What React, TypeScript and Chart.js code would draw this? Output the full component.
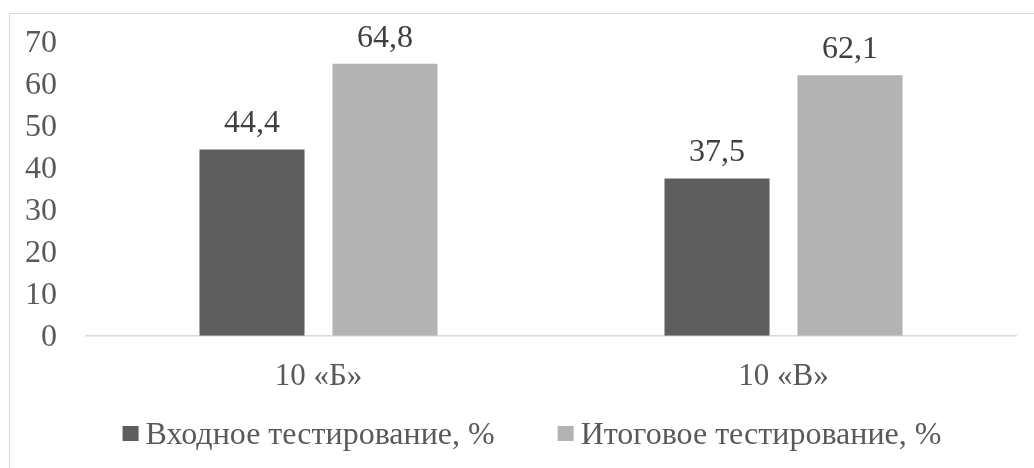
import React, { useEffect, useRef } from "react";
import { Chart, registerables } from "chart.js";

Chart.register(...registerables);

const categories = ["10 «Б»", "10 «В»"];
const seriesNames = ["Входное тестирование, %", "Итоговое тестирование, %"];
const entryValues = [44.4, 37.5];
const finalValues = [64.8, 62.1];
const yTicks = [0, 10, 20, 30, 40, 50, 60, 70];
const seriesColors = ["#5e5e5e", "#b3b3b3"];

const FONT = "'Liberation Serif', 'Times New Roman', serif";
const TEXT = "#595959";

const dataLabelPlugin = {
  id: "dataLabels",
  afterDatasetsDraw(chart: any) {
    const ctx = chart.ctx;
    ctx.save();
    ctx.font = `32px ${FONT}`;
    ctx.fillStyle = "#404040";
    ctx.textAlign = "center";
    ctx.textBaseline = "alphabetic";
    chart.data.datasets.forEach((ds: any, i: number) => {
      const meta = chart.getDatasetMeta(i);
      meta.data.forEach((el: any, j: number) => {
        const v = ds.data[j] as number;
        ctx.fillText(v.toFixed(1).replace(".", ","), el.x, el.y - 17);
      });
    });
    ctx.restore();
  },
};

// Legend drawn with the dataset labels/colours (box, small gap, text; wide gap between items)
const legendPlugin = {
  id: "customLegend",
  afterDraw(chart: any) {
    const ctx = chart.ctx;
    ctx.save();
    ctx.font = `32px ${FONT}`;
    const box = 16;
    const gap = 7;
    const itemGap = 63;
    const items = chart.data.datasets.map((ds: any) => ({
      text: ds.label as string,
      color: ds.backgroundColor as string,
      w: ctx.measureText(ds.label).width,
    }));
    const total =
      items.reduce((s: number, it: any) => s + box + gap + it.w, 0) + itemGap * (items.length - 1);
    let x = chart.width / 2 + 10 - total / 2;
    const baseline = chart.height - 24;
    items.forEach((it: any) => {
      ctx.fillStyle = it.color;
      ctx.fillRect(x, baseline - 18, box, box - 1);
      x += box + gap;
      ctx.fillStyle = TEXT;
      ctx.textAlign = "left";
      ctx.textBaseline = "alphabetic";
      ctx.fillText(it.text, x, baseline);
      x += it.w + itemGap;
    });
    ctx.restore();
  },
};

export default function App() {
  const ref = useRef<HTMLCanvasElement>(null);
  useEffect(() => {
    if (!ref.current) return;
    const chart = new Chart(ref.current, {
      type: "bar",
      data: {
        labels: categories,
        datasets: [
          {
            label: seriesNames[0],
            data: entryValues,
            backgroundColor: seriesColors[0],
            borderWidth: 0,
          },
          {
            label: seriesNames[1],
            data: finalValues,
            backgroundColor: seriesColors[1],
            borderWidth: 0,
          },
        ],
      },
      options: {
        animation: false,
        responsive: false,
        maintainAspectRatio: false,
        layout: { padding: { left: 0, right: 18, top: 28, bottom: 51 } },
        datasets: { bar: { categoryPercentage: 0.572, barPercentage: 0.79 } },
        plugins: {
          legend: { display: false },
          tooltip: { enabled: false },
        },
        scales: {
          x: {
            grid: { display: false, drawTicks: false },
            border: { display: true, color: "#d9d9d9", width: 1.5 },
            ticks: { font: { family: FONT, size: 31 }, color: TEXT, padding: 22 },
          },
          y: {
            min: 0,
            max: 70,
            afterBuildTicks: (axis: any) => {
              axis.ticks = yTicks.map((v) => ({ value: v }));
            },
            afterFit: (axis: any) => {
              axis.width = 76;
              axis.paddingTop = 0;
              axis.paddingBottom = 0;
            },
            grid: { display: false, drawTicks: false },
            border: { display: false },
            ticks: {
              font: { family: FONT, size: 32 },
              color: TEXT,
              padding: 29,
              autoSkip: false,
              labelOffset: 2,
            },
          },
        },
      },
      plugins: [dataLabelPlugin, legendPlugin],
    });
    return () => chart.destroy();
  }, []);
  return (
    <div style={{ position: "fixed", left: 0, top: 0, width: 1034, height: 468, overflow: "hidden", background: "#fff" }}>
      <div
        style={{
          position: "absolute",
          left: 9,
          top: 13,
          width: 1024,
          height: 454,
          border: "1px solid #d9d9d9",
          borderRight: "none",
          borderBottom: "none",
        }}
      >
        <canvas ref={ref} width={1024} height={454} style={{ display: "block", width: 1024, height: 454 }} />
      </div>
    </div>
  );
}
